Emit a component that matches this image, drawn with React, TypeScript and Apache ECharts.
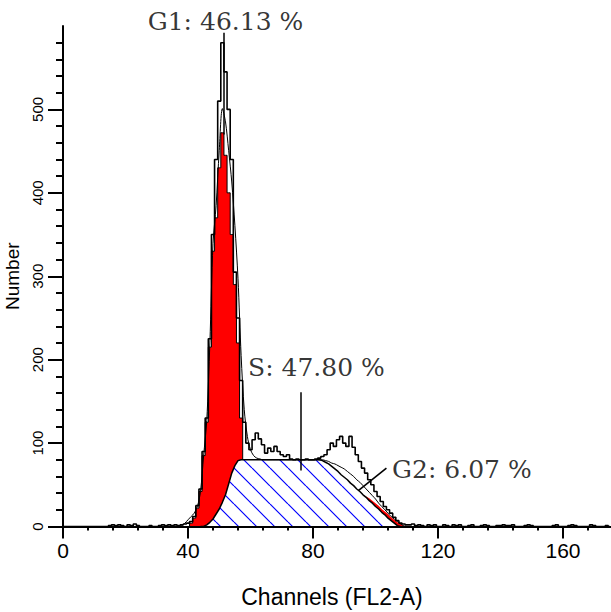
import React, { useEffect, useRef } from 'react';
import * as echarts from 'echarts';

// Raw histogram counts, one value per channel 0..175
const channelCounts: number[] = [
  0, 0, 0, 0, 0, 0, 0, 0, 0, 0, // 0-9
  0, 0, 0, 0, 0, 1, 2, 1, 2, 1, // 10-19
  0, 2, 1, 3, 1, 0, 0, 0, 1, 0, // 20-29
  0, 1, 2, 1, 2, 1, 2, 1, 2, 3, // 30-39
  4, 6, 12, 25, 45, 90, 130, 225, 350, 440, // 40-49
  510, 580, 545, 500, 440, 305, 250, 175, 125, 100, // 50-59
  92, 104, 112, 105, 98, 88, 94, 90, 96, 90, // 60-69
  86, 84, 86, 81, 80, 81, 80, 80, 81, 80, // 70-79
  80, 81, 82, 84, 86, 92, 100, 96, 104, 108, // 80-89
  100, 96, 108, 95, 86, 78, 70, 64, 56, 50, // 90-99
  42, 36, 30, 24, 20, 16, 11, 7, 4, 3, // 100-109
  2, 2, 3, 1, 2, 1, 0, 2, 1, 2, // 110-119
  0, 0, 2, 1, 0, 2, 1, 2, 0, 0, // 120-129
  1, 2, 0, 0, 1, 2, 1, 0, 0, 1, // 130-139
  1, 2, 1, 1, 2, 0, 0, 0, 1, 2, // 140-149
  1, 0, 0, 0, 0, 0, 0, 1, 2, 0, // 150-159
  0, 0, 1, 2, 1, 0, 0, 0, 0, 2, // 160-169
  1, 0, 0, 0, 1, 0, // 170-175
];

// G1 peak fit (red), channels 40..62
const g1Start = 40;
const g1Fit: number[] = [0, 4, 10, 22, 42, 85, 125, 215, 330, 370, 430, 472, 445, 400, 350, 290, 220, 130, 70, 35, 15, 5, 0];

// S phase fit (hatched), channels 44..108
const sStart = 44;
const sPhaseFit: number[] = [
  0, 0, 2, 5, 9, 15, 21, 29, 38, 51, 64, 73, 79, // 44-56
  80, 80, 80, 80, 80, 80, 80, 80, 80, 80, 80, 80, 80, // 57-69
  80, 80, 80, 80, 80, 80, 80, 80, 80, 80, 80, 80, 80, // 70-82
  79, 77, 75, 72, 69, 66, 62, 59, 56, 52, 49, 45, 42, // 83-95
  38, 35, 31, 28, 24, 21, 17, 14, 10, 7, 4, 1, 0, // 96-108
];

// G2 fit (red band on the S slope), channels 95..110
const g2Start = 95;
const g2Fit: number[] = [42, 38, 36, 34, 31, 28, 25, 21, 18, 15, 11, 8, 5, 3, 1, 0];

// Total model curve, channels 37..110
const modelStart = 37;
const modelFit: number[] = [
  0, 1, 4, 8, 12, 16, 24, 42, 85, 127, // 37-46
  220, 339, 385, 451, 501, 485, 451, 413, 361, 297, // 47-56
  205, 140, 108, 92, 85, 82, 81, 80, 80, 80, // 57-66
  80, 80, 80, 80, 80, 80, 80, 80, 80, 80, // 67-76
  80, 80, 80, 80, 80, 80, 80, 79, 78, 76, // 77-86
  75, 73, 71, 69, 66, 63, 60, 56, 53, 49, // 87-96
  45, 41, 37, 33, 28, 24, 20, 16, 12, 9, // 97-106
  6, 3, 1, 0, // 107-110
];

const xTickLabels = [0, 40, 80, 120, 160];
const yTickLabels = [0, 100, 200, 300, 400, 500];

const phaseLabels = ['G1: 46.13 %', 'S: 47.80 %', 'G2: 6.07 %'];
const phaseLabelX = [52.0, 59.2, 105.3];
const phaseLabelY = [605, 191, 68];
const phaseLabelAlign = ['center', 'left', 'left'];

const pointerStart = [[51.4, 592], [76.2, 161], [103.5, 70]];
const pointerEnd = [[51.4, 470], [76.2, 67], [94.5, 43]];

function toPairs(start: number, values: number[]) {
  return values.map((v, i) => [start + i, v]);
}

function makeHatch() {
  const size = 18;
  const c = document.createElement('canvas');
  c.width = size;
  c.height = size;
  const ctx = c.getContext('2d')!;
  ctx.fillStyle = '#ffffff';
  ctx.fillRect(0, 0, size, size);
  ctx.strokeStyle = '#0000ff';
  ctx.lineWidth = 1.2;
  ctx.beginPath();
  for (const o of [-size, 0, size]) {
    ctx.moveTo(o, 0);
    ctx.lineTo(o + size, size);
  }
  ctx.stroke();
  return c;
}

export default function App() {
  const ref = useRef<HTMLDivElement>(null);
  useEffect(() => {
    if (!ref.current) return;
    const chart = echarts.init(ref.current, undefined, { renderer: 'svg' });
    const black = '#000000';
    const sans = 'Liberation Sans';
    const option: any = {
      animation: false,
      backgroundColor: '#ffffff',
      grid: { left: 63, top: 26, right: -2, bottom: 85.5, containLabel: false, outerBoundsMode: 'none' },
      xAxis: [
        {
          type: 'value', min: 0, max: 176, interval: 8, position: 'bottom', z: 6,
          axisLine: { show: true, onZero: false, lineStyle: { color: black, width: 2 } },
          axisTick: { show: true, length: 4, lineStyle: { color: black, width: 2 } },
          axisLabel: { show: false },
          splitLine: { show: false },
        },
        {
          type: 'value', min: 0, max: 176, interval: 40, position: 'bottom', z: 6,
          axisLine: { show: false, onZero: false },
          axisTick: { show: true, length: 12, customValues: xTickLabels, lineStyle: { color: black, width: 2 } },
          axisLabel: { show: true, customValues: xTickLabels, color: black, fontSize: 21, fontFamily: sans, margin: 13 },
          splitLine: { show: false },
          name: 'Channels (FL2-A)', nameLocation: 'middle', nameGap: 59,
          nameTextStyle: { color: black, fontSize: 23, fontFamily: sans, padding: [0, 12, 0, 0] },
        },
      ],
      yAxis: {
        type: 'value', min: 0, max: 600, interval: 100, z: 6,
        axisLine: { show: true, onZero: false, lineStyle: { color: black, width: 2 } },
        axisTick: { show: true, length: 15, customValues: yTickLabels, lineStyle: { color: black, width: 2 } },
        minorTick: { show: true, splitNumber: 5, length: 7, lineStyle: { color: black, width: 2 } },
        axisLabel: { show: true, customValues: yTickLabels, rotate: 90, margin: 18, color: black, fontSize: 15, fontFamily: sans },
        splitLine: { show: false },
        minorSplitLine: { show: false },
        name: 'Number', nameLocation: 'middle', nameGap: 31, nameRotate: 90,
        nameTextStyle: { color: black, fontSize: 19, fontFamily: sans },
      },
      series: [
        {
          name: 'G1', type: 'line', step: 'middle', silent: true, symbol: 'none', z: 1,
          data: toPairs(g1Start, g1Fit),
          lineStyle: { color: black, width: 1 },
          areaStyle: { color: '#ff0000', opacity: 1 },
        },
        {
          name: 'G2', type: 'line', silent: true, symbol: 'none', z: 1,
          data: toPairs(g2Start, g2Fit),
          lineStyle: { width: 0 },
          areaStyle: { color: '#ff0000', opacity: 1 },
        },
        {
          name: 'S', type: 'line', silent: true, symbol: 'none', z: 2,
          data: toPairs(sStart, sPhaseFit),
          lineStyle: { color: black, width: 1.5 },
          areaStyle: { color: { image: makeHatch(), repeat: 'repeat' }, opacity: 1 },
        },
        {
          name: 'Model', type: 'line', silent: true, symbol: 'none', smooth: 0.3, z: 3,
          data: toPairs(modelStart, modelFit),
          lineStyle: { color: black, width: 1 },
          markLine: {
            silent: true, symbol: ['none', 'none'], label: { show: false },
            lineStyle: { color: black, width: 1.5, type: 'solid' },
            data: pointerStart.map((p, i) => [{ coord: p }, { coord: pointerEnd[i] }]),
          },
        },
        {
          name: 'Data', type: 'line', step: 'middle', silent: true, symbol: 'none', z: 4,
          data: channelCounts.map((v, i) => [i, v]),
          lineStyle: { color: black, width: 1.6 },
        },
        {
          name: 'Labels', type: 'scatter', silent: true, symbolSize: 0, clip: false, z: 5,
          data: phaseLabels.map((t, i) => ({
            value: [phaseLabelX[i], phaseLabelY[i]], name: t,
            label: { align: phaseLabelAlign[i] },
          })),
          label: {
            show: true, formatter: '{b}', position: [0, 0], verticalAlign: 'middle',
            color: black, fontSize: 25, fontFamily: 'DejaVu Serif',
          },
        },
      ],
    };
    chart.setOption(option);
    return () => chart.dispose();
  }, []);
  return (
    <div
      ref={ref}
      style={{ position: 'fixed', left: 0, top: 0, width: 611, height: 612, background: '#fff' }}
    />
  );
}
